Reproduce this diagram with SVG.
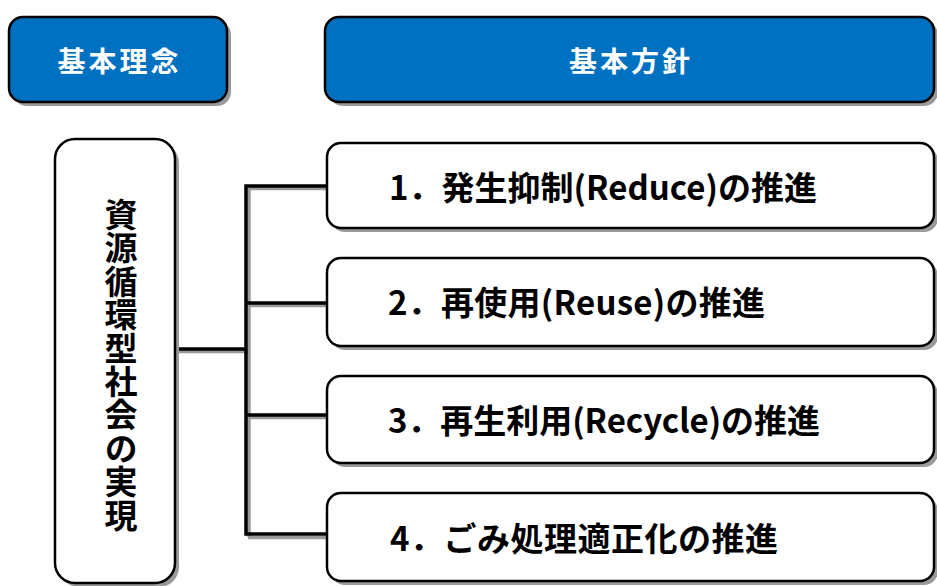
<svg xmlns="http://www.w3.org/2000/svg" width="937" height="586" viewBox="0 0 937 586">
<style>
.sh{fill:#9a9a9a;stroke:none}
.hd{fill:#0070C0;stroke:#000;stroke-width:2.5}
.bx{fill:#fff;stroke:#000;stroke-width:2.5}
.ht{font-family:"Noto Sans CJK JP","Noto Sans",sans-serif;font-weight:bold;font-size:28px;fill:#fff;letter-spacing:3px}
.t{font-family:"Noto Sans CJK JP","Noto Sans",sans-serif;font-weight:bold;font-size:33px;fill:#000}
.vt{font-family:"Noto Sans CJK JP","Noto Sans",sans-serif;font-weight:bold;font-size:33px;fill:#000;writing-mode:vertical-rl;text-orientation:upright;letter-spacing:0.4px}
.ln{fill:none;stroke:#000;stroke-width:3.5;stroke-linecap:butt}
.lnsh{fill:none;stroke:#9a9a9a;stroke-width:3.5}
</style>
<rect width="937" height="586" fill="#fff"/>
<g id="connectors">
<path class="lnsh" d="M176 351.5H248M249 188V537M248 188.5H327M248 305.5H327M248 417.5H327M248 537.5H327"/>
<path class="ln" d="M175 349H246M246 184.3V535.7M246 186H327M246 303H327M246 415H327M246 534H327"/>
</g>
<g id="header-kihonrinen">
<rect class="sh" x="13" y="21" width="218" height="85" rx="14"/>
<rect class="hd" x="9" y="17" width="218" height="85" rx="14"/>
<text class="ht" x="119.5" y="72" text-anchor="middle">基本理念</text>
</g>
<g id="header-kihonhoushin">
<rect class="sh" x="329" y="21" width="609" height="85" rx="14"/>
<rect class="hd" x="325" y="17" width="609" height="85" rx="14"/>
<text class="ht" x="631" y="72" text-anchor="middle">基本方針</text>
</g>
<g id="concept">
<rect class="sh" x="59" y="143" width="120" height="444" rx="20"/>
<rect class="bx" x="55" y="139" width="120" height="444" rx="20"/>
<text class="vt" x="121" y="198">資源循環型社会の実現</text>
</g>
<g id="policy1">
<rect class="sh" x="331" y="147" width="607" height="85" rx="14"/>
<rect class="bx" x="327" y="143" width="607" height="85" rx="14"/>
<text class="t" x="389" y="200" textLength="428" lengthAdjust="spacing">1．発生抑制(Reduce)の推進</text>
</g>
<g id="policy2">
<rect class="sh" x="331" y="262" width="607" height="88" rx="14"/>
<rect class="bx" x="327" y="258" width="607" height="88" rx="14"/>
<text class="t" x="388" y="314.5" textLength="377" lengthAdjust="spacing">2．再使用(Reuse)の推進</text>
</g>
<g id="policy3">
<rect class="sh" x="331" y="380" width="607" height="87" rx="14"/>
<rect class="bx" x="327" y="376" width="607" height="87" rx="14"/>
<text class="t" x="388" y="432.5" textLength="432" lengthAdjust="spacing">3．再生利用(Recycle)の推進</text>
</g>
<g id="policy4">
<rect class="sh" x="331" y="497" width="607" height="88" rx="14"/>
<rect class="bx" x="327" y="493" width="607" height="88" rx="14"/>
<text class="t" x="390" y="550.5" textLength="388" lengthAdjust="spacing">4．ごみ処理適正化の推進</text>
</g>
</svg>
